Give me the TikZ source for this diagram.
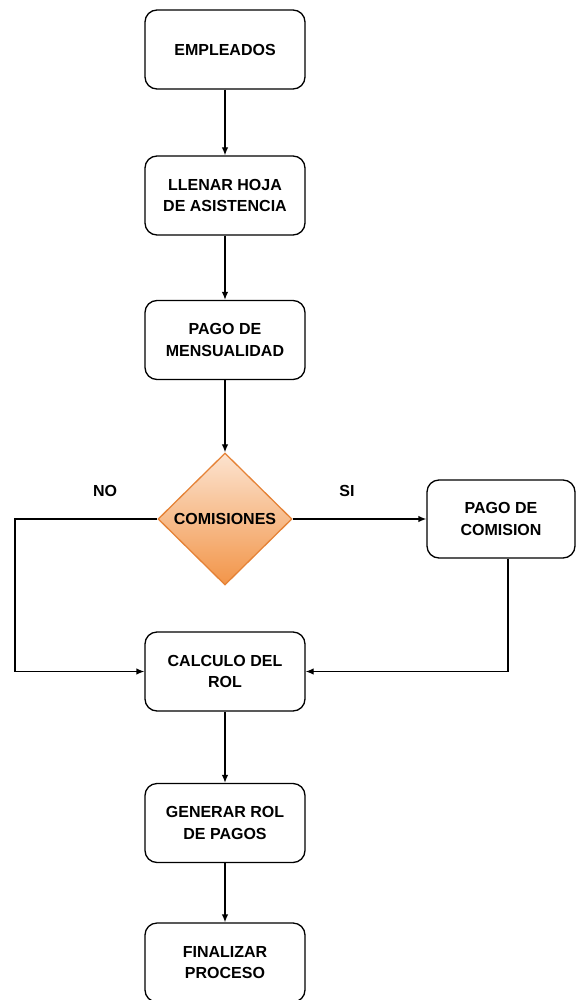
\documentclass[tikz,border=0pt]{standalone}
\usepackage{fontspec}
\setmainfont{Liberation Sans}
\usepackage{tikz}
\usetikzlibrary{arrows.meta}
\usetikzlibrary{shapes.geometric}

\definecolor{decline}{HTML}{E58236}
\definecolor{dectop}{HTML}{FCE3CF}
\definecolor{decbot}{HTML}{F29549}

\begin{document}
\begin{tikzpicture}[x=1pt,y=-1pt,
    box/.style={draw,line width=1.3pt,rounded corners=12pt,minimum width=160pt,minimum height=79pt,
      align=center,font=\fontsize{16}{21.5}\selectfont\bfseries},
    decision/.style={diamond,draw=decline,line width=1.3pt,top color=dectop,bottom color=decbot,
      inner sep=0pt,minimum width=134pt,minimum height=132pt,font=\fontsize{16}{21.5}\selectfont\bfseries},
    arr/.style={line width=1.3pt,-{Latex[length=8pt,width=6.5pt]}},
    tag/.style={font=\fontsize{16}{21.5}\selectfont\bfseries}]
    \useasboundingbox (0,0) rectangle (576,1000);
    \node[box] (emp) at (225,49.5) {EMPLEADOS};
    \node[box] (hoja) at (225,195.5) {LLENAR HOJA\\DE ASISTENCIA};
    \node[box] (mens) at (225,340) {PAGO DE\\MENSUALIDAD};
    \node[decision] (com) at (225,519) {COMISIONES};
    \node[box,minimum width=148pt,minimum height=78pt] (pcom) at (501,519) {PAGO DE\\COMISION};
    \node[box] (rol) at (225,671.5) {CALCULO DEL\\ROL};
    \node[box] (gen) at (225,823) {GENERAR ROL\\DE PAGOS};
    \node[box] (fin) at (225,962.5) {FINALIZAR\\PROCESO};
    \node[tag] (no) at (105,491) {NO};
    \node[tag] (si) at (347,491) {SI};
    \draw[arr] (emp) -- (hoja);
    \draw[arr] (hoja) -- (mens);
    \draw[arr] (mens) -- (com);
    \draw[arr] (com) -- (pcom);
    \draw[arr] (com.west) -| (15,671.5) -- (rol.west);
    \draw[arr] (pcom.south -| 508,0) |- (rol.east);
    \draw[arr] (rol) -- (gen);
    \draw[arr] (gen) -- (fin);
  \end{tikzpicture}
\end{document}
